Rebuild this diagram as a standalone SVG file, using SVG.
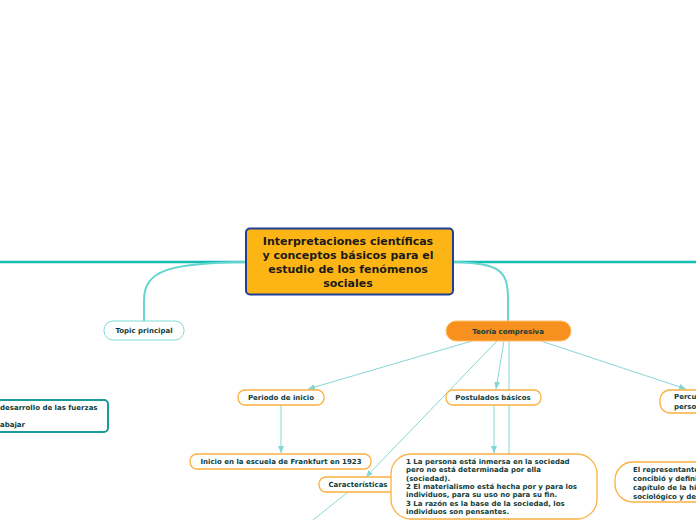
<svg xmlns="http://www.w3.org/2000/svg" width="696" height="520" viewBox="0 0 696 520">
<defs>
<marker id="ah" markerWidth="8" markerHeight="8" refX="7" refY="4" orient="auto" markerUnits="userSpaceOnUse">
<path d="M0,1 L7,4 L0,7 Z" fill="#7fd6d2"/>
</marker>
<style>
.t{font-family:"DejaVu Sans",Verdana,sans-serif;font-weight:bold;fill:#123d3a;font-size:7px}
.tc{text-anchor:middle}
.main{font-family:"DejaVu Sans",Verdana,sans-serif;font-weight:bold;fill:#1a1a1a;font-size:11px;text-anchor:middle}
.thick{fill:none;stroke:#16bdb3;stroke-width:2.5}
.curve{fill:none;stroke:#63d6d0;stroke-width:2}
.thin{fill:none;stroke:#85d8d4;stroke-width:1}
.org{fill:#fff;stroke:#fbb040;stroke-width:1.3}
</style>
</defs>
<rect width="696" height="520" fill="#fff"/>
<g id="connectors">
<path class="thick" d="M0,262 L246,262"/>
<path class="thick" d="M453,262 L696,262"/>
<path class="curve" d="M246,262 C170,263 144,270 144,300 L144,321"/>
<path class="curve" d="M453,262 C500,263 508,270 508,300 L508,321"/>
<path class="thin" d="M472,341 L308,389" marker-end="url(#ah)"/>
<path class="thin" d="M504,341 L496,389" marker-end="url(#ah)"/>
<path class="thin" d="M541,341 L686,389" marker-end="url(#ah)"/>
<path class="thin" d="M497,341 L366,477" marker-end="url(#ah)"/>
<path class="thin" d="M509,341 L509,520"/>
<path class="thin" d="M281,405 L281,453" marker-end="url(#ah)"/>
<path class="thin" d="M494,405 L494,453" marker-end="url(#ah)"/>
<path class="thin" d="M348,492 L313,520"/>
</g>
<g id="central">
<rect x="246" y="228.5" width="207" height="66" rx="4" fill="#fdb515" stroke="#1e3f95" stroke-width="2"/>
<text class="main" x="348" y="245">Interpretaciones científicas</text>
<text class="main" x="348" y="259">y conceptos básicos para el</text>
<text class="main" x="348" y="273">estudio de los fenómenos</text>
<text class="main" x="348" y="287">sociales</text>
</g>
<g id="topic-principal">
<rect x="104" y="321" width="80" height="19" rx="9" fill="#fff" stroke="#7fdcd6" stroke-width="1"/>
<text class="t tc" x="144" y="333">Topic principal</text>
</g>
<g id="teoria-compresiva">
<rect x="446" y="321" width="125" height="20" rx="10" fill="#f7901e" stroke="#fdbe6a" stroke-width="1"/>
<text class="t tc" x="508" y="333.5">Teoría compresiva</text>
</g>
<g id="left-node">
<rect x="-10" y="400" width="118" height="32" rx="4" fill="#fff" stroke="#1b9a9a" stroke-width="2"/>
<text class="t" x="0" y="410">desarrollo de las fuerzas</text>
<text class="t" x="0" y="427">abajar</text>
</g>
<g id="periodo-inicio">
<rect x="238" y="390" width="86" height="15" rx="7" class="org"/>
<text class="t tc" x="281" y="400">Periodo de inicio</text>
</g>
<g id="inicio-frankfurt">
<rect x="190" y="454" width="181" height="15" rx="7" class="org"/>
<text class="t tc" x="281" y="464">Inicio en la escuela de Frankfurt en 1923</text>
</g>
<g id="postulados">
<rect x="446" y="390" width="95" height="15" rx="7" class="org"/>
<text class="t tc" x="493" y="400">Postulados básicos</text>
</g>
<g id="percu">
<rect x="660" y="390" width="60" height="23" rx="10" class="org"/>
<text class="t" x="674" y="399">Percu</text>
<text class="t" x="674" y="409">perso</text>
</g>
<g id="caracteristicas">
<rect x="319" y="477" width="79" height="15" rx="7" class="org"/>
<text class="t tc" x="358" y="487">Características</text>
</g>
<g id="postulados-texto">
<rect x="391" y="454" width="206" height="65" rx="20" class="org"/>
<text class="t" x="406" y="464">1 La persona está inmersa en la sociedad</text>
<text class="t" x="406" y="472.3">pero no está determinada por ella</text>
<text class="t" x="406" y="480.6">(sociedad).</text>
<text class="t" x="406" y="488.9">2 El materialismo está hecha por y para los</text>
<text class="t" x="406" y="497.2">individuos, para su uso no para su fin.</text>
<text class="t" x="406" y="505.5">3 La razón es la base de la sociedad, los</text>
<text class="t" x="406" y="513.8">individuos son pensantes.</text>
</g>
<g id="representante">
<rect x="615" y="462" width="110" height="40" rx="18" class="org"/>
<text class="t" x="633" y="472">El representante</text>
<text class="t" x="633" y="481">concibió y defini</text>
<text class="t" x="633" y="490">capítulo de la hi</text>
<text class="t" x="633" y="499">sociológico y de</text>
</g>
</svg>
